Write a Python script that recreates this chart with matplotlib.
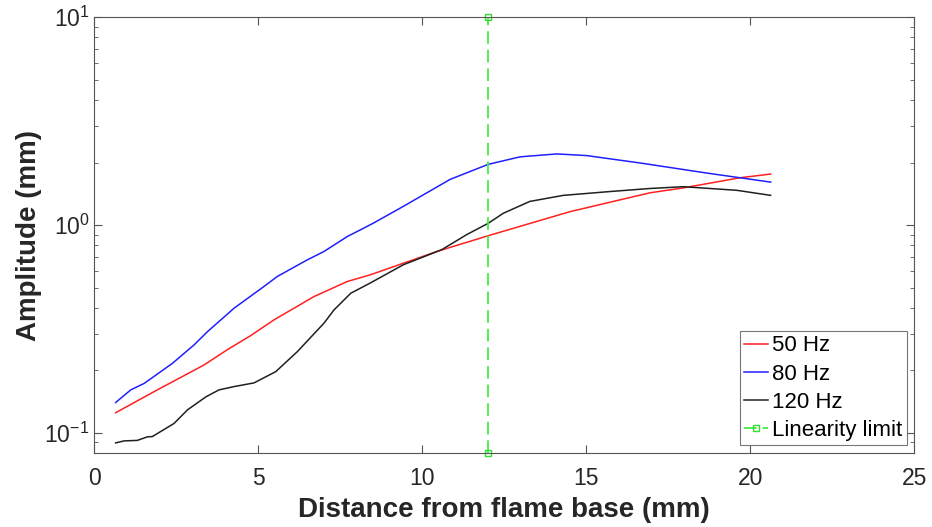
import matplotlib
matplotlib.use('Agg')
import matplotlib.pyplot as plt
from matplotlib.ticker import LogLocator, NullFormatter

plt.rcParams['font.family'] = ['Liberation Sans', 'DejaVu Sans']
plt.rcParams['mathtext.fontset'] = 'custom'
plt.rcParams['mathtext.rm'] = 'Liberation Sans'
plt.rcParams['mathtext.it'] = 'Liberation Sans:italic'
plt.rcParams['mathtext.bf'] = 'Liberation Sans:bold'
plt.rcParams['axes.unicode_minus'] = False

# 50 Hz
x_50 = [0.65, 1.92, 3.34, 4.05, 4.77, 5.48, 6.70, 7.71, 8.41, 10.44, 12.01, 14.50, 16.94, 17.96, 19.69, 20.62]
y_50 = [0.125, 0.161, 0.212, 0.251, 0.294, 0.350, 0.453, 0.535, 0.576, 0.746, 0.889, 1.16, 1.43, 1.51, 1.69, 1.76]

# 80 Hz
x_80 = [0.65, 1.11, 1.52, 2.38, 3.04, 3.45, 4.26, 5.17, 5.58, 6.50, 7.00, 7.72, 8.12, 8.50,
        9.42, 10.85, 12.01, 12.98, 14.10, 15.01, 16.64, 18.67, 20.62]
y_80 = [0.140, 0.161, 0.173, 0.216, 0.265, 0.307, 0.398, 0.506, 0.566, 0.681, 0.746, 0.882, 0.95, 1.02,
        1.23, 1.66, 1.96, 2.13, 2.20, 2.16, 1.99, 1.78, 1.61]

# 120 Hz
x_120 = [0.65, 0.91, 1.31, 1.62, 1.77, 2.43, 2.84, 3.40, 3.80, 4.26, 4.87, 5.53, 6.19, 7.00, 7.31,
         7.82, 8.41, 9.42, 10.59, 11.35, 12.01, 12.47, 13.28, 14.30, 15.72, 16.94, 17.96, 19.59, 20.62]
y_120 = [0.0895, 0.0915, 0.092, 0.0957, 0.096, 0.111, 0.129, 0.149, 0.161, 0.167, 0.174, 0.197, 0.246,
         0.337, 0.391, 0.470, 0.526, 0.644, 0.761, 0.899, 1.02, 1.14, 1.30, 1.39, 1.45, 1.50, 1.53, 1.47, 1.39]

# linearity limit
x_lim = [12, 12]
y_lim = [0.08, 10]

fig = plt.figure(figsize=(9.32, 5.27), dpi=100)
ax = fig.add_axes([0.1012, 0.1404, 0.8798, 0.8268])

ax.plot(x_50, y_50, color='#ff2020', lw=1.1, label='50 Hz')
ax.plot(x_80, y_80, color='#2020ff', lw=1.1, label='80 Hz')
ax.plot(x_120, y_120, color='#202020', lw=1.1, label='120 Hz')
ax.plot(x_lim, y_lim, color='#44ee44', lw=1.3, ls=(0, (7, 3.3)), marker='s', ms=5,
        mfc='none', mec='#33dd33', label='Linearity limit', clip_on=False)

ax.set_yscale('log')
ax.set_xlim(0, 25)
ax.set_ylim(0.08, 10)
ax.set_xticks([0, 5, 10, 15, 20, 25])
ax.yaxis.set_major_locator(LogLocator(base=10, numticks=10))
ax.yaxis.set_minor_locator(LogLocator(base=10, subs=range(2, 10), numticks=20))
ax.yaxis.set_minor_formatter(NullFormatter())

gray = '#262626'
for s in ax.spines.values():
    s.set_color('#555555')
    s.set_linewidth(0.8)
ax.tick_params(which='both', direction='in', top=True, right=True, colors='#555555',
               labelcolor=gray, labelsize=16.5)
ax.tick_params(which='major', length=6, width=0.8)
ax.tick_params(which='minor', length=3, width=0.6)
ax.tick_params(axis='x', which='major', pad=10)

ax.set_xlabel('Distance from flame base (mm)', fontsize=20, fontweight='bold', color=gray, labelpad=5)
ax.set_ylabel('Amplitude (mm)', fontsize=20, fontweight='bold', color=gray, labelpad=2)

leg = ax.legend(loc='lower right', fontsize=16, frameon=True, fancybox=False,
                handlelength=1.1, handletextpad=0.15, borderpad=0.2, labelspacing=0.32,
                borderaxespad=0.35)
leg.get_frame().set_edgecolor('#555555')
leg.get_frame().set_linewidth(0.8)

fig.savefig('out.png', dpi=100)
